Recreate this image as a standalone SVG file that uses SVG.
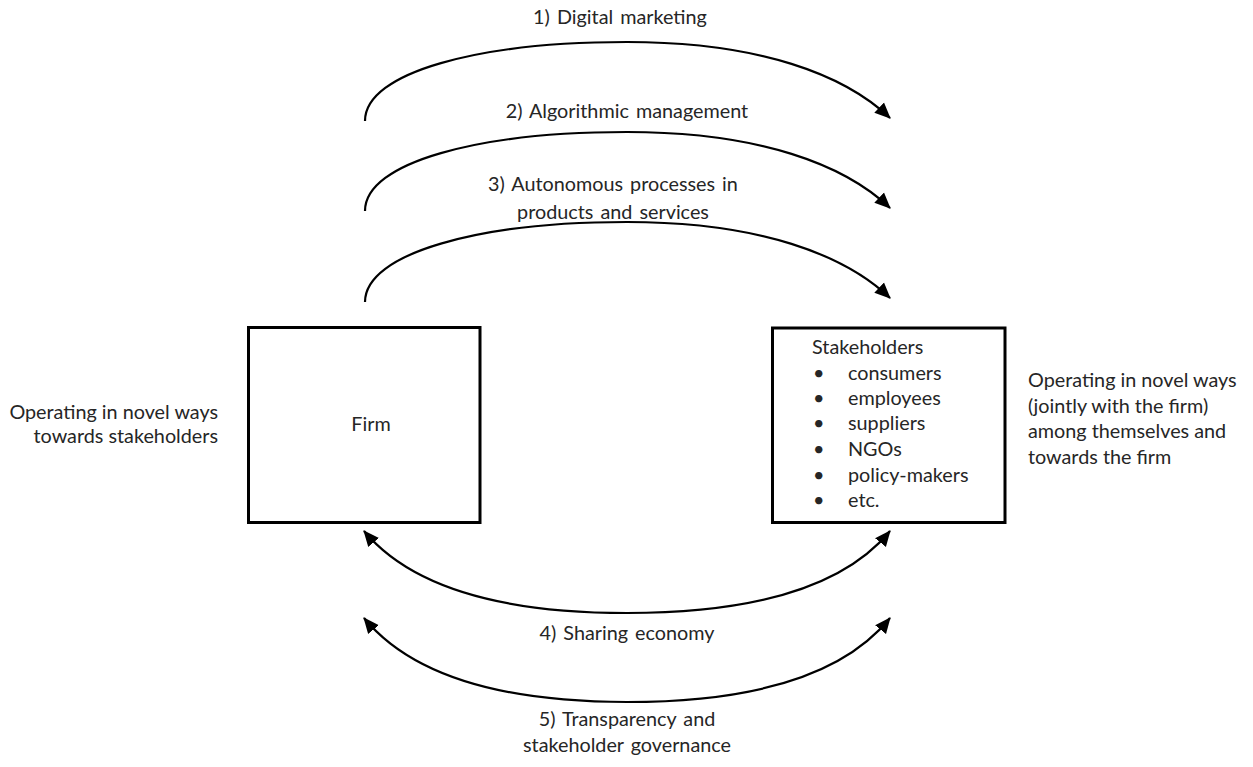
<svg xmlns="http://www.w3.org/2000/svg" width="1253" height="767" viewBox="0 0 1253 767">
<style>
text{font-family:Lato,"Liberation Sans",sans-serif;font-size:19.8px;fill:#262626}
.box{fill:#fff;stroke:#000;stroke-width:3}
.arc{fill:none;stroke:#000;stroke-width:2.2}
.m{text-anchor:middle;word-spacing:2px}
.e{text-anchor:end}
</style>
<defs>
<marker id="ah" markerUnits="userSpaceOnUse" markerWidth="18" markerHeight="16" refX="15" refY="7" orient="auto-start-reverse" viewBox="0 0 18 14">
<path d="M0,0 L16,7 L0,14 Z" fill="#000"/>
</marker>
</defs>
<rect width="1253" height="767" fill="#fff"/>
<g id="connectors">
<path class="arc" d="M365,121 C365,72 480,42 627,42 C760,42 845,75 890,118" marker-end="url(#ah)"/>
<path class="arc" d="M365,211 C365,162 480,132 627,132 C760,132 845,165 890,208" marker-end="url(#ah)"/>
<path class="arc" d="M365,302 C365,253 480,222 627,222 C760,222 845,255 890,298" marker-end="url(#ah)"/>
<path class="arc" d="M364,531 C420,598 530,613 627,613 C725,613 835,598 890,531" marker-start="url(#ah)" marker-end="url(#ah)"/>
<path class="arc" d="M364,618 C420,686 530,702 627,702 C725,702 835,686 890,618" marker-start="url(#ah)" marker-end="url(#ah)"/>
</g>
<g id="label1"><text class="m" x="620" y="24">1) Digital marketing</text></g>
<g id="label2"><text class="m" x="627" y="118">2) Algorithmic management</text></g>
<g id="label3"><text class="m" x="613" y="191">3) Autonomous processes in</text><text class="m" x="613" y="219">products and services</text></g>
<g id="label4"><text class="m" x="627" y="640">4) Sharing economy</text></g>
<g id="label5"><text class="m" x="627" y="726">5) Transparency and</text><text class="m" x="627" y="752">stakeholder governance</text></g>
<g id="firm">
<rect class="box" x="248.5" y="327.5" width="231.5" height="195"/>
<text class="m" x="371" y="431">Firm</text>
</g>
<g id="stakeholders">
<rect class="box" x="772.5" y="328" width="232.5" height="194.5"/>
<text x="812" y="354">Stakeholders</text>
<text x="813" y="380">•</text><text x="848" y="380">consumers</text>
<text x="813" y="405">•</text><text x="848" y="405">employees</text>
<text x="813" y="430">•</text><text x="848" y="430">suppliers</text>
<text x="813" y="456">•</text><text x="848" y="456">NGOs</text>
<text x="813" y="482">•</text><text x="848" y="482">policy-makers</text>
<text x="813" y="507">•</text><text x="848" y="507">etc.</text>
</g>
<g id="left-note">
<text class="e" x="218" y="419">Operating in novel ways</text>
<text class="e" x="218" y="443">towards stakeholders</text>
</g>
<g id="right-note">
<text x="1028" y="387">Operating in novel ways</text>
<text x="1028" y="413">(jointly with the firm)</text>
<text x="1028" y="438">among themselves and</text>
<text x="1028" y="464">towards the firm</text>
</g>
</svg>
